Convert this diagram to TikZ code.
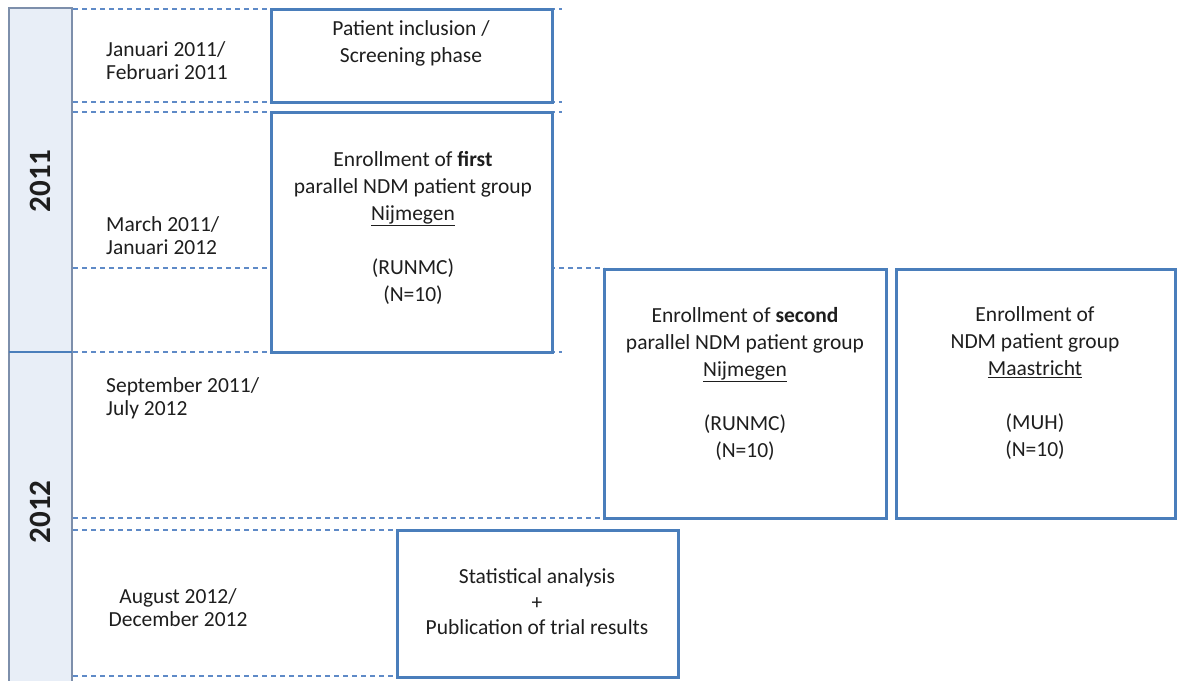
\documentclass[tikz,border=0pt]{standalone}
\usepackage{fontspec}
\setmainfont{Carlito}
\usetikzlibrary{positioning}
\definecolor{PhaseBlue}{HTML}{4A7EBB}
\definecolor{GridBlue}{HTML}{5E8AC7}
\definecolor{BarFill}{HTML}{E8EEF7}
\definecolor{BarEdge}{HTML}{7D8FAB}
\definecolor{TextGray}{HTML}{1E1E1E}

\begin{document}
\begin{tikzpicture}[x=1pt,y=-1pt,
  phasebox/.style={draw=PhaseBlue,line width=3pt,inner sep=0pt},
  boxtext/.style={align=center,text=TextGray,inner sep=0pt,font=\fontsize{21.5}{27}\selectfont},
  datetext/.style={align=left,anchor=west,text=TextGray,inner sep=0pt,font=\fontsize{21.5}{23}\selectfont},
  gridline/.style={draw=GridBlue,line width=1.2pt,dash pattern=on 5pt off 4pt},
  yearlabel/.style={rotate=90,text=TextGray,font=\fontsize{31}{34}\selectfont\bfseries}]
  \useasboundingbox (0,0) rectangle (1177,680);
  % year bar
  \fill[BarFill] (9,8) rectangle (72,682);
  \draw[BarEdge,line width=1.8pt] (9,682)--(9,8)--(72,8)--(72,682);
  \draw[PhaseBlue,line width=1.2pt] (9,352)--(72,352);
  \node[yearlabel] (y2011) at (40,181) {2011};
  \node[yearlabel] (y2012) at (40,512) {2012};
  % dashed period lines
  \foreach \yy/\xend in {9/562,102/562,112/562,268/604,352/562,518/604,530/397,676/397}
    \draw[gridline] (73,\yy) -- (\xend,\yy);
  % periods
  \node[datetext] (jan) at (106,61) {Januari 2011/\\Februari 2011};
  \node[datetext] (mar) at (106,236) {March 2011/\\Januari 2012};
  \node[datetext] (sep) at (106,398) {September 2011/\\July 2012};
  \node[datetext,align=center,anchor=center] (aug) at (178,608) {August 2012/\\December 2012};
  % phases
  \node[phasebox,fill=white,minimum width=281pt,minimum height=93pt] (screen) at (411.5,55.5) {};
  \node[phasebox,fill=white,minimum width=281pt,minimum height=240pt] (first) at (411.5,232) {};
  \node[phasebox,fill=white,minimum width=282pt,minimum height=249pt] (second) at (745,393.5) {};
  \node[phasebox,fill=white,minimum width=279pt,minimum height=249pt] (maas) at (1035.5,393.5) {};
  \node[phasebox,fill=white,minimum width=281pt,minimum height=147pt] (stats) at (537.5,603.5) {};
  \node[boxtext] (screentxt) at (411,43) {Patient inclusion /\\Screening phase};
  \node[boxtext] (firsttxt) at (413,228) {Enrollment of \textbf{first}\\parallel NDM patient group\\\underline{Nijmegen}\\[27pt](RUNMC)\\(N=10)};
  \node[boxtext] (secondtxt) at (745,384) {Enrollment of \textbf{second}\\parallel NDM patient group\\\underline{Nijmegen}\\[27pt](RUNMC)\\(N=10)};
  \node[boxtext] (maastxt) at (1035,383) {Enrollment of\\NDM patient group\\\underline{Maastricht}\\[27pt](MUH)\\(N=10)};
  \node[boxtext,font=\fontsize{21.5}{25.5}\selectfont] (statstxt) at (537,602) {Statistical analysis\\+\\Publication of trial results};
\end{tikzpicture}
\end{document}
